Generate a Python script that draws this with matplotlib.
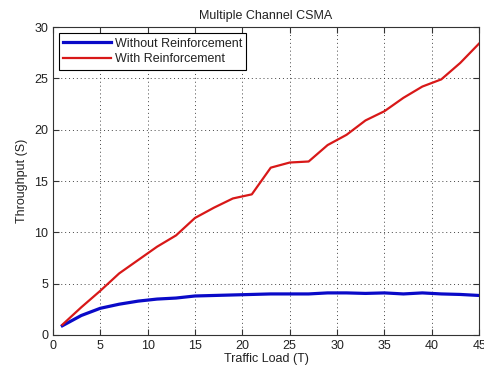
import matplotlib
matplotlib.use("Agg")
import matplotlib.pyplot as plt
import numpy as np

plt.rcParams['font.family'] = ['Liberation Sans', 'DejaVu Sans']

# traffic load values
load = [1, 3, 5, 7, 9, 11, 13, 15, 17, 19, 21, 23, 25, 27, 29, 31, 33, 35, 37, 39, 41, 43, 45]

without_reinf = [0.9, 1.9, 2.6, 3.0, 3.3, 3.5, 3.6, 3.8, 3.85, 3.9, 3.95, 4.0, 4.0,
                 4.0, 4.1, 4.1, 4.05, 4.1, 4.0, 4.1, 4.0, 3.95, 3.85]
with_reinf = [1.0, 2.7, 4.3, 6.0, 7.3, 8.6, 9.7, 11.4, 12.4, 13.3, 13.7, 16.3, 16.8,
              16.9, 18.5, 19.5, 20.9, 21.8, 23.1, 24.2, 24.9, 26.5, 28.4]

txt = '#222222'
fig = plt.figure(figsize=(4.85, 3.7), dpi=100)
ax = fig.add_axes([0.109, 0.0946, 0.879, 0.8324])

ax.plot(load, without_reinf, color='#0a0ac8', lw=2.3, label='Without Reinforcement')
ax.plot(load, with_reinf, color='#d81818', lw=1.6, label='With Reinforcement')

ax.set_xlim(0, 45)
ax.set_ylim(0, 30)
ax.set_xticks(np.arange(0, 46, 5))
ax.set_yticks(np.arange(0, 31, 5))
ax.grid(True, color='#444444', linestyle=(0, (1, 3)), linewidth=0.7)
for s in ax.spines.values():
    s.set_color('#333333')
ax.tick_params(direction='in', labelsize=9, top=True, right=True, length=4,
               colors='#333333', labelcolor=txt)

ax.set_title('Multiple Channel CSMA', fontsize=9, color=txt)
ax.set_xlabel('Traffic Load (T)', fontsize=9, labelpad=1, color=txt)
ax.set_ylabel('Throughput (S)', fontsize=9, labelpad=4, color=txt)

leg = ax.legend(loc='upper left', fontsize=9, fancybox=False, framealpha=1,
                edgecolor='black', borderpad=0.35, handlelength=3.8,
                borderaxespad=0.5, labelspacing=0.3, handletextpad=0.3)
leg.get_frame().set_linewidth(0.8)
for t in leg.get_texts():
    t.set_color(txt)

fig.savefig('out.png', dpi=100)
